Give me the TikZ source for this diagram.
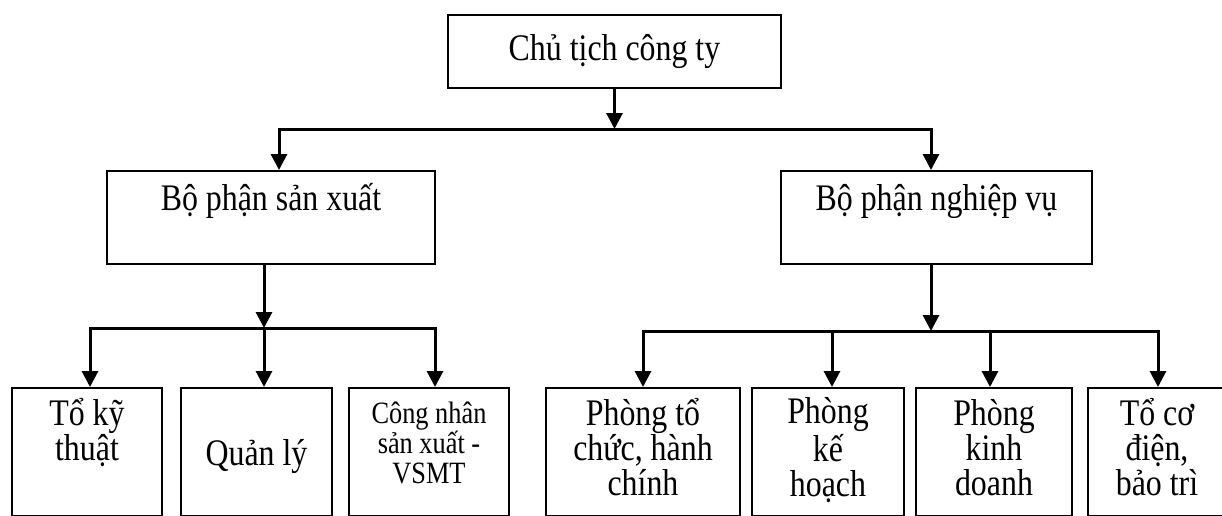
\documentclass[tikz,border=0pt]{standalone}
\usepackage{fontspec}
\setmainfont{Liberation Serif}[FakeStretch=0.85]
\usetikzlibrary{arrows.meta}

\begin{document}
\begin{tikzpicture}[x=0.4pt, y=-0.4pt,
    box/.style={draw=black, line width=0.8pt, align=center, inner sep=0pt, font=\fontsize{15pt}{14pt}\selectfont},
    leaf/.style={box, minimum height=51.2pt, execute at begin node=\rule{0pt}{15pt}, execute at end node=\rule[-4pt]{0pt}{4pt}},
    conn/.style={draw=black, line width=1.2pt, line cap=rect},
    arr/.style={draw=black, line width=1.2pt, -{Triangle[width=6.4pt,length=6.4pt]}}]
\useasboundingbox (0,0) rectangle (1222,515);
% top
\node[box, minimum width=133.2pt, minimum height=29.2pt] (ct) at (614.5,51.5) {Chủ tịch công ty};
% middle
\node[box, minimum width=131.2pt, minimum height=37.2pt, text height=11pt, text depth=17pt] (sx) at (271,217.5) {Bộ phận sản xuất};
\node[box, minimum width=124.4pt, minimum height=37.2pt, text height=11pt, text depth=17pt] (nv) at (936.5,217.5) {Bộ phận nghiệp vụ};
% bottom
\node[leaf, minimum width=60pt] (kt) at (87,452) {Tổ kỹ\\thuật\\\mbox{}};
\node[leaf, minimum width=60.4pt] (ql) at (256.5,452) {Quản lý};
\node[leaf, minimum width=64pt, font=\fontsize{12.4pt}{12pt}\selectfont, text depth=7.5pt] (cn) at (429,452) {Công nhân\\sản xuất -\\VSMT};
\node[leaf, minimum width=77.6pt] (tc) at (643,452) {Phòng tổ\\chức, hành\\chính};
\node[leaf, minimum width=60.8pt] (kh) at (828,452) {Phòng\\kế\\hoạch};
\node[leaf, minimum width=62.4pt] (kd) at (994,452) {Phòng\\kinh\\doanh};
\node[leaf, minimum width=55.2pt] (cd) at (1157,452) {Tổ cơ\\điện,\\bảo trì};

\coordinate (b0) at (614.5,129);
\coordinate (bl) at (279,129);
\coordinate (br) at (931,129);
\draw[arr] (ct.south) -- (b0);
\draw[conn] (bl) -- (br);
\draw[arr] (bl) -- (bl |- sx.north);
\draw[arr] (br) -- (br |- nv.north);

% left branch
\coordinate (sxbus) at (264,328);
\coordinate (sx1) at (90,328);
\coordinate (sx3) at (435,328);
\draw[arr] (sx.south -| sxbus) -- (sxbus);
\draw[conn] (sx1) -- (sx3);
\draw[arr] (sx1) -- (sx1 |- kt.north);
\draw[arr] (sxbus) -- (sxbus |- ql.north);
\draw[arr] (sx3) -- (sx3 |- cn.north);

% right branch
\coordinate (nvbus) at (931,331);
\coordinate (nv1) at (643,331);
\coordinate (nv2) at (832,331);
\coordinate (nv3) at (990,331);
\coordinate (nv4) at (1158,331);
\draw[arr] (nv.south -| nvbus) -- (nvbus);
\draw[conn] (nv1) -- (nv4);
\draw[arr] (nv1) -- (nv1 |- tc.north);
\draw[arr] (nv2) -- (nv2 |- kh.north);
\draw[arr] (nv3) -- (nv3 |- kd.north);
\draw[arr] (nv4) -- (nv4 |- cd.north);
\end{tikzpicture}
\end{document}
